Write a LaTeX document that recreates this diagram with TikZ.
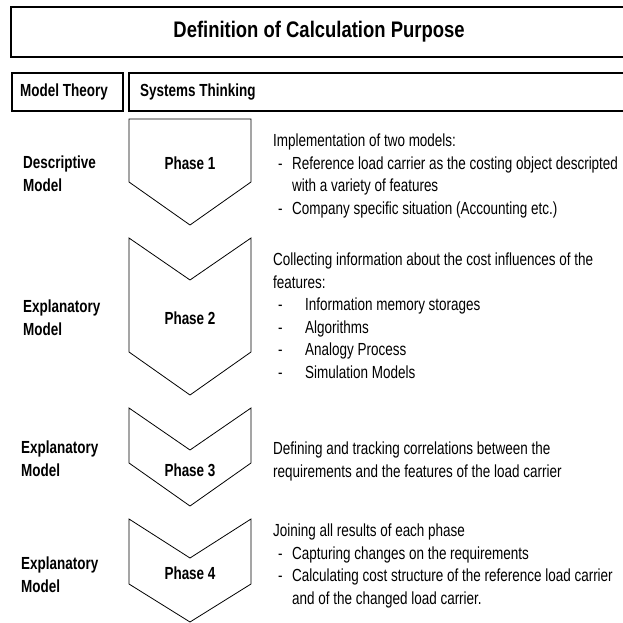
\documentclass[tikz,border=0pt]{standalone}
\usepackage{fontspec}
\setmainfont{Liberation Sans}[FakeStretch=0.77]
\newfontfamily\titlefont{Liberation Sans}[FakeStretch=0.82]
\begin{document}
\begin{tikzpicture}[x=1pt,y=-1pt,
  hdr/.style={draw,line width=1.4pt},
  phasebox/.style={draw,line width=0.8pt},
  body/.style={font=\fontsize{17.5}{22.5}\selectfont,align=left,anchor=base west,inner sep=0pt},
  lbl/.style={font=\fontsize{17.5}{22.5}\selectfont\bfseries,align=left,anchor=base west,inner sep=0pt},
  plbl/.style={font=\fontsize{17.5}{20}\selectfont\bfseries,inner sep=0pt}]
\useasboundingbox (0,0) rectangle (623,623);
% header boxes
\draw[hdr] (626,7) -- (11,7) -- (11,57) -- (626,57);
\node[font=\titlefont\fontsize{22.5}{26}\selectfont\bfseries] (title) at (319,32) {Definition of Calculation Purpose};
\draw[hdr] (12,73) rectangle (123,111);
\node[lbl,anchor=west] (mt) at (20,92) {Model Theory};
\draw[hdr] (626,73) -- (129,73) -- (129,111) -- (626,111);
\node[lbl,anchor=west] (st) at (140,92) {Systems Thinking};
% phase shapes
\draw[phasebox] (129,119) -- (251,119) -- (251,182) -- (190,225) -- (129,182) -- cycle;
\draw[phasebox] (129,238) -- (190,280) -- (251,238) -- (251,352) -- (190,395) -- (129,352) -- cycle;
\draw[phasebox] (129,408) -- (190,450) -- (251,408) -- (251,463) -- (190,506) -- (129,463) -- cycle;
\draw[phasebox] (129,519) -- (190,558) -- (251,519) -- (251,584) -- (190,622) -- (129,584) -- cycle;
\node[plbl] (p1) at (190,163) {Phase 1};
\node[plbl] (p2) at (190,318) {Phase 2};
\node[plbl] (p3) at (190,470) {Phase 3};
\node[plbl] (p4) at (190,573) {Phase 4};
% left labels (anchored at the baseline of the last line)
\node[lbl] (m1) at (23,191) {Descriptive\\Model};
\node[lbl] (m2) at (23,335) {Explanatory\\Model};
\node[lbl] (m3) at (21,476) {Explanatory\\Model};
\node[lbl] (m4) at (21,592) {Explanatory\\Model};
% right texts (anchored at the baseline of the last line)
\node[body] (t1) at (273,214) {Implementation of two models:\\
\hspace*{5pt}\makebox[14pt][l]{-}Reference load carrier as the costing object descripted\\
\hspace*{19pt}with a variety of features\\
\hspace*{5pt}\makebox[14pt][l]{-}Company specific situation (Accounting etc.)};
\node[body] (t2) at (273,378) {Collecting information about the cost influences of the\\
features:\\
\hspace*{5pt}\makebox[27pt][l]{-}Information memory storages\\
\hspace*{5pt}\makebox[27pt][l]{-}Algorithms\\
\hspace*{5pt}\makebox[27pt][l]{-}Analogy Process\\
\hspace*{5pt}\makebox[27pt][l]{-}Simulation Models};
\node[body] (t3) at (273,477) {Defining and tracking correlations between the\\
requirements and the features of the load carrier};
\node[body] (t4) at (273,604) {Joining all results of each phase\\
\hspace*{5pt}\makebox[14pt][l]{-}Capturing changes on the requirements\\
\hspace*{5pt}\makebox[14pt][l]{-}Calculating cost structure of the reference load carrier\\
\hspace*{19pt}and of the changed load carrier.};
\end{tikzpicture}
\end{document}
